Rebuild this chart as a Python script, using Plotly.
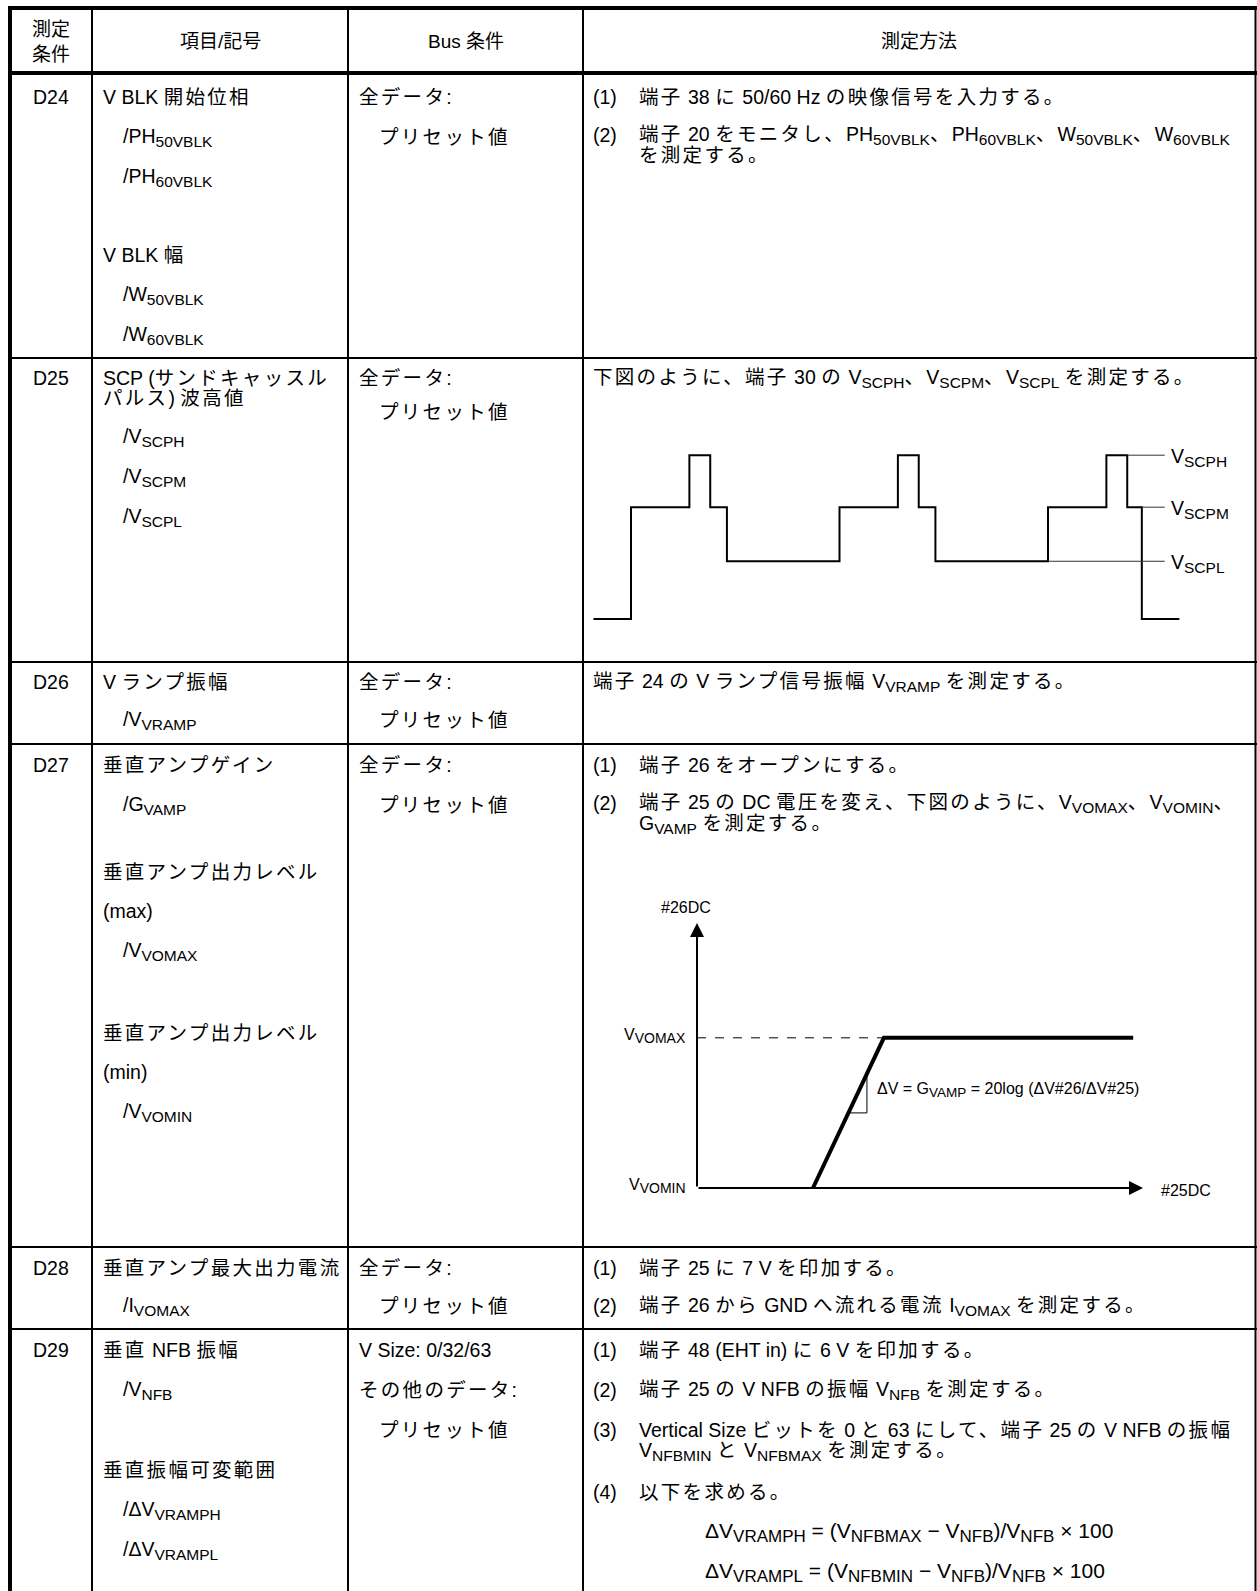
import re
import plotly.graph_objects as go

W, H = 1257, 1591
FONT = "Liberation Sans, Arial, Noto Sans CJK JP, sans-serif"
FS = 19.5
SUB_FS = 15.5
CJK_SP = 2.3

# ---------------- data (text content) ----------------
header_labels = ["測定<br>条件", "項目/記号", "Bus 条件", "測定方法"]
conditions = ["D24", "D25", "D26", "D27", "D28", "D29"]

items_text = [
    ["V BLK 開始位相", "/PH<sub>50VBLK</sub>", "/PH<sub>60VBLK</sub>", "V BLK 幅",
     "/W<sub>50VBLK</sub>", "/W<sub>60VBLK</sub>"],
    ["SCP (サンドキャッスル", "パルス) 波高値", "/V<sub>SCPH</sub>", "/V<sub>SCPM</sub>", "/V<sub>SCPL</sub>"],
    ["V ランプ振幅", "/V<sub>VRAMP</sub>"],
    ["垂直アンプゲイン", "/G<sub>VAMP</sub>", "垂直アンプ出力レベル", "(max)", "/V<sub>VOMAX</sub>",
     "垂直アンプ出力レベル", "(min)", "/V<sub>VOMIN</sub>"],
    ["垂直アンプ最大出力電流", "/I<sub>VOMAX</sub>"],
    ["垂直 NFB 振幅", "/V<sub>NFB</sub>", "垂直振幅可変範囲", "/ΔV<sub>VRAMPH</sub>", "/ΔV<sub>VRAMPL</sub>"],
]
bus_text = [
    ["全データ:", "プリセット値"],
    ["全データ:", "プリセット値"],
    ["全データ:", "プリセット値"],
    ["全データ:", "プリセット値"],
    ["全データ:", "プリセット値"],
    ["V Size: 0/32/63", "その他のデータ:", "プリセット値"],
]
method_num = [
    ["(1)", "(2)", ""],
    [""],
    [""],
    ["(1)", "(2)", ""],
    ["(1)", "(2)"],
    ["(1)", "(2)", "(3)", "", "(4)"],
]
method_text = [
    ["端子 38 に 50/60 Hz の映像信号を入力する。",
     "端子 20 をモニタし、PH<sub>50VBLK</sub>、PH<sub>60VBLK</sub>、W<sub>50VBLK</sub>、W<sub>60VBLK</sub>",
     "を測定する。"],
    ["下図のように、端子 30 の V<sub>SCPH</sub>、V<sub>SCPM</sub>、V<sub>SCPL</sub> を測定する。"],
    ["端子 24 の V ランプ信号振幅 V<sub>VRAMP</sub> を測定する。"],
    ["端子 26 をオープンにする。",
     "端子 25 の DC 電圧を変え、下図のように、V<sub>VOMAX</sub>、V<sub>VOMIN</sub>、",
     "G<sub>VAMP</sub> を測定する。"],
    ["端子 25 に 7 V を印加する。",
     "端子 26 から GND へ流れる電流 I<sub>VOMAX</sub> を測定する。"],
    ["端子 48 (EHT in) に 6 V を印加する。",
     "端子 25 の V NFB の振幅 V<sub>NFB</sub> を測定する。",
     "Vertical Size ビットを 0 と 63 にして、端子 25 の V NFB の振幅",
     "V<sub>NFBMIN</sub> と V<sub>NFBMAX</sub> を測定する。",
     "以下を求める。"],
]
formulas = [
    "ΔV<sub>VRAMPH</sub> = (V<sub>NFBMAX</sub> − V<sub>NFB</sub>)/V<sub>NFB</sub> × 100",
    "ΔV<sub>VRAMPL</sub> = (V<sub>NFBMIN</sub> − V<sub>NFB</sub>)/V<sub>NFB</sub> × 100",
]

# sandcastle pulse waveform (time units, level units)
scp_t = [-1.8, 0, 0, 2.8, 2.8, 3.8, 3.8, 4.6, 4.6, 10, 10, 12.8, 12.8, 13.8, 13.8,
         14.6, 14.6, 20, 20, 22.8, 22.8, 23.8, 23.8, 24.5, 24.5, 26.3]
scp_v = [0, 0, 2.13, 2.13, 3.12, 3.12, 2.13, 2.13, 1.1, 1.1, 2.13, 2.13, 3.12, 3.12, 2.13,
         2.13, 1.1, 1.1, 2.13, 2.13, 3.12, 3.12, 2.13, 2.13, 0, 0]
scp_ref_names = ["V<sub>SCPH</sub>", "V<sub>SCPM</sub>", "V<sub>SCPL</sub>"]
scp_ref_level = [3.12, 2.13, 1.1]
scp_ref_start = [23.8, 24.5, 20.0]
scp_ref_end = 25.6

# vertical amp transfer curve (#25DC -> #26DC)
amp_x = [2.6, 4.19, 9.78]
amp_y = [0, 3.4, 3.4]
amp_vomax = 3.4
amp_vomin = 0.0
tri_x = [3.395, 3.81, 3.81]
tri_y = [1.70, 1.70, 2.587]
axis_x_max = 10
axis_y_max = 6

# ---------------- layout positions ----------------
col_x = [10, 92, 348, 583, 1255.5]
table_top = 8
header_bot = 73
row_tops = [73, 358, 662, 744, 1247, 1329]

cond_y = [97, 378, 682, 765, 1268, 1350]
items_pos = [
    [(97, 0), (137, 1), (177, 1), (255, 0), (295, 1), (335, 1)],
    [(378, 0), (398, 0), (437, 1), (477, 1), (517, 1)],
    [(682, 0), (720, 1)],
    [(765, 0), (805, 1), (872, 0), (911, 0), (951, 1), (1033, 0), (1072, 0), (1112, 1)],
    [(1268, 0), (1306, 1)],
    [(1350, 0), (1390, 1), (1470, 0), (1510, 1), (1550, 1)],
]
bus_pos = [
    [(97, 0), (137, 1)],
    [(378, 0), (412, 1)],
    [(682, 0), (720, 1)],
    [(765, 0), (805, 1)],
    [(1268, 0), (1306, 1)],
    [(1350, 0), (1390, 0), (1430, 1)],
]
method_pos = [
    [(97, 637), (135, 637), (155, 637)],
    [(378, 591)],
    [(682, 591)],
    [(765, 637), (803, 637), (824, 637)],
    [(1268, 637), (1306, 637)],
    [(1350, 637), (1390, 637), (1430, 637), (1451, 637), (1492, 637)],
]
formula_pos = [(1532, 703), (1572, 703)]

CJK = re.compile(r"([\u3000-\u30ff\u4e00-\u9fff\uff00-\uffef]+)")


def fmt(s, sub_px=SUB_FS, spacing=CJK_SP):
    s = s.replace("<sub>", '<sub><span style="font-size:%.1fpx">' % sub_px).replace("</sub>", "</span></sub>")
    if spacing:
        s = CJK.sub(r'<span style="letter-spacing:%.1fpx">\1</span>' % spacing, s)
    return s


def txt(x, y, s, anchor="left", size=FS, xref="x", yref="y", sub_px=SUB_FS, spacing=CJK_SP):
    return dict(x=x, y=y, text=fmt(s, sub_px, spacing), xref=xref, yref=yref, xanchor=anchor,
                yanchor="middle", showarrow=False, font=dict(family=FONT, size=size, color="black"))


fig = go.Figure()
fig.add_trace(go.Scatter(x=[0, W], y=[0, H], mode="markers", marker=dict(opacity=0),
                         hoverinfo="skip", showlegend=False, xaxis="x", yaxis="y"))

shapes = []
ann = []


def hline(y, x0, x1, w):
    shapes.append(dict(type="line", xref="x", yref="y", x0=x0, x1=x1, y0=y, y1=y,
                       line=dict(color="black", width=w)))


def vline(x, y0, y1, w):
    shapes.append(dict(type="line", xref="x", yref="y", x0=x, x1=x, y0=y0, y1=y1,
                       line=dict(color="black", width=w)))


# table grid
hline(table_top, 8, W, 4)
hline(header_bot, 8, W, 4)
for rt in row_tops[1:]:
    hline(rt, 10, W, 2)
vline(col_x[0], 6, H, 4)
for cx in col_x[1:4]:
    vline(cx, table_top, H, 2)
vline(col_x[4], table_top, H, 2)

# header
centers = [(col_x[i] + col_x[i + 1]) / 2 for i in range(4)]
for c, lab in zip(centers, header_labels):
    ann.append(txt(c, (table_top + header_bot) / 2 + 1, lab, anchor="center", size=19, spacing=0))

# body
for r in range(len(conditions)):
    ann.append(txt(centers[0], cond_y[r], conditions[r], anchor="center"))
    for s, (y, ind) in zip(items_text[r], items_pos[r]):
        ann.append(txt(101 + ind * 20, y, s))
    for s, (y, ind) in zip(bus_text[r], bus_pos[r]):
        ann.append(txt(357 + ind * 20, y, s))
    for n, s, (y, x) in zip(method_num[r], method_text[r], method_pos[r]):
        if n:
            ann.append(txt(591, y, n))
        ann.append(txt(x, y, s))
for s, (y, x) in zip(formulas, formula_pos):
    ann.append(txt(x, y, s, size=21, sub_px=17, spacing=0))


# ---------------- inset axes helpers ----------------
def xdom(x0px, ppu, rng):
    return [(x0px + rng[0] * ppu) / W, (x0px + rng[1] * ppu) / W]


def ydom(y0px, ppu, rng):
    return [(H - (y0px - rng[0] * ppu)) / H, (H - (y0px - rng[1] * ppu)) / H]


# ---------------- sandcastle waveform inset ----------------
r2x = [-2.5, 27.5]
r2y = [-0.5, 3.6]
fig.add_trace(go.Scatter(x=scp_t, y=scp_v, mode="lines", line=dict(color="black", width=2),
                         xaxis="x2", yaxis="y2", showlegend=False, hoverinfo="skip"))
for nm, lv, st in zip(scp_ref_names, scp_ref_level, scp_ref_start):
    fig.add_trace(go.Scatter(x=[st, scp_ref_end], y=[lv, lv], mode="lines",
                             line=dict(color="#333333", width=1), xaxis="x2", yaxis="y2",
                             showlegend=False, hoverinfo="skip"))
    ann.append(txt(scp_ref_end + 0.2, lv - 0.05, nm, xref="x2", yref="y2", spacing=0))

# ---------------- amp transfer inset ----------------
r3x = [-1.0, 11.0]
r3y = [-0.5, 6.8]
fig.add_trace(go.Scatter(x=[0, amp_x[1]], y=[amp_vomax, amp_vomax], mode="lines",
                         line=dict(color="black", width=1, dash="dash"),
                         xaxis="x3", yaxis="y3", showlegend=False, hoverinfo="skip"))
fig.add_trace(go.Scatter(x=tri_x, y=tri_y, mode="lines", line=dict(color="black", width=1),
                         xaxis="x3", yaxis="y3", showlegend=False, hoverinfo="skip"))
fig.add_trace(go.Scatter(x=amp_x, y=amp_y, mode="lines", line=dict(color="black", width=4),
                         xaxis="x3", yaxis="y3", showlegend=False, hoverinfo="skip"))
for (hx, hy) in [(0, axis_y_max), (axis_x_max, 0)]:
    ann.append(dict(x=hx, y=hy, ax=0, ay=0, xref="x3", yref="y3", axref="x3", ayref="y3",
                    text="", showarrow=True, arrowhead=2, arrowsize=1.4, arrowwidth=2,
                    arrowcolor="black", standoff=0, startstandoff=0))
ann.append(txt(-0.25, axis_y_max + 0.34, "#26DC", anchor="center", size=16, xref="x3", yref="y3", spacing=0))
ann.append(txt(axis_x_max + 0.36, -0.05, "#25DC", size=16, xref="x3", yref="y3", spacing=0))
ann.append(txt(-0.2, amp_vomax + 0.05, "V<sub>VOMAX</sub>", anchor="right", size=16,
               xref="x3", yref="y3", sub_px=14, spacing=0))
ann.append(txt(-0.2, amp_vomin + 0.05, "V<sub>VOMIN</sub>", anchor="right", size=16,
               xref="x3", yref="y3", sub_px=14, spacing=0))
ann.append(txt(3.99, 2.22, "ΔV = G<sub>VAMP</sub> = 20log (ΔV#26/ΔV#25)", size=16,
               xref="x3", yref="y3", sub_px=13.5, spacing=0))

hidden = dict(visible=False, showgrid=False, zeroline=False, fixedrange=True)
fig.update_layout(
    width=W, height=H, margin=dict(l=0, r=0, t=0, b=0),
    paper_bgcolor="white", plot_bgcolor="rgba(0,0,0,0)",
    xaxis=dict(range=[0, W], domain=[0, 1], **hidden),
    yaxis=dict(range=[H, 0], domain=[0, 1], **hidden),
    xaxis2=dict(range=r2x, domain=xdom(631, 20.85, r2x), anchor="y2", **hidden),
    yaxis2=dict(range=r2y, domain=ydom(619, 52.5, r2y), anchor="x2", **hidden),
    xaxis3=dict(range=r3x, domain=xdom(697, 44.6, r3x), anchor="y3", **hidden),
    yaxis3=dict(range=r3y, domain=ydom(1188, 44.17, r3y), anchor="x3", **hidden),
    shapes=shapes, annotations=ann, showlegend=False,
)
fig.write_html(
    "out.html",
    config={"displayModeBar": False, "staticPlot": True},
    post_script="document.documentElement.style.margin='0';document.body.style.margin='0';"
                "document.documentElement.style.overflow='hidden';document.body.style.overflow='hidden';",
)
